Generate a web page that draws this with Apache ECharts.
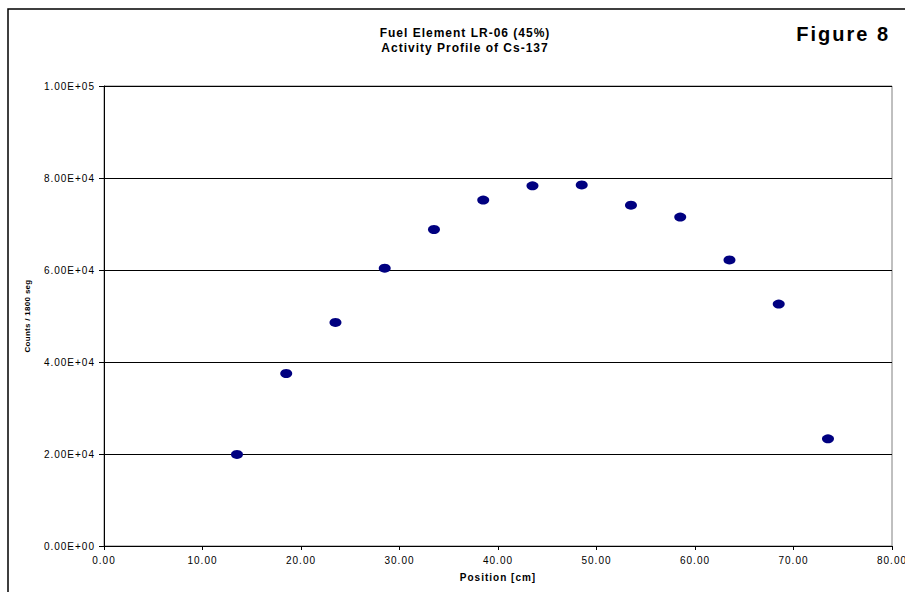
<!DOCTYPE html>
<html style="height: 100%">
<head>
<meta charset="utf-8">
<script src="https://cdn.jsdelivr.net/npm/echarts@6/dist/echarts.min.js"></script>
<style>
    #main text { letter-spacing: 1px; }
    #main text[style*="20px"] { letter-spacing: 2px; }
    #main text[style*=" 8px"] { letter-spacing: 0.3px; }
</style>
</head>
<body style="height: 100%; margin: 0; background: #fff">
<div id="main" style="width: 905px; height: 592px"></div>
<script type="text/javascript">
var positions = [13.5, 18.5, 23.5, 28.5, 33.5, 38.5, 43.5, 48.5, 53.5, 58.5, 63.5, 68.5, 73.5];
var counts = [19900, 37500, 48600, 60400, 68800, 75200, 78300, 78500, 74100, 71500, 62200, 52600, 23300];

var points = [];
for (var i = 0; i < positions.length; i++) {
    points.push([positions[i], counts[i]]);
}

var font = 'Liberation Sans, Arial, sans-serif';
var myChart = echarts.init(document.getElementById('main'), null, { renderer: 'svg' });
myChart.setOption({
    backgroundColor: '#fff',
    animation: false,
    title: [{
        text: 'Fuel Element LR-06 (45%)\nActivity Profile of Cs-137',
        left: 460,
        top: 20,
        textAlign: 'center',
        textStyle: {
            color: '#000',
            fontFamily: font,
            fontSize: 12,
            fontWeight: 'bold',
            lineHeight: 15
        }
    }, {
        text: 'Figure 8',
        right: 26,
        top: 19,
        textStyle: {
            color: '#000',
            fontFamily: font,
            fontSize: 20,
            fontWeight: 'bold'
        }
    }],
    graphic: [{
        type: 'rect',
        shape: { x: 8, y: 9, width: 1000, height: 1000 },
        style: { fill: 'none', stroke: '#000', lineWidth: 1.5 },
        z: -1
    }],
    grid: {
        left: 104,
        right: 13,
        top: 86,
        bottom: 46,
        outerBoundsMode: 'none',
        show: true,
        borderColor: '#808080',
        borderWidth: 1
    },
    xAxis: {
        type: 'value',
        min: 0,
        max: 80,
        interval: 10,
        name: 'Position [cm]',
        nameLocation: 'middle',
        nameGap: 26,
        nameTextStyle: { color: '#000', fontFamily: font, fontSize: 10, fontWeight: 'bold' },
        axisLine: { lineStyle: { color: '#000', width: 1 } },
        axisTick: { show: true, length: 4, lineStyle: { color: '#000' } },
        axisLabel: {
            color: '#000',
            fontFamily: font,
            fontSize: 10,
            margin: 9,
            formatter: function (v) { return v.toFixed(2); }
        },
        splitLine: { show: false }
    },
    yAxis: {
        type: 'value',
        min: 0,
        max: 100000,
        interval: 20000,
        name: 'Counts / 1800 seg',
        nameLocation: 'middle',
        nameGap: 73,
        nameTextStyle: { color: '#000', fontFamily: font, fontSize: 8, fontWeight: 'bold' },
        axisLine: { show: true, lineStyle: { color: '#000', width: 1 } },
        axisTick: { show: true, length: 5, lineStyle: { color: '#000' } },
        axisLabel: {
            color: '#000',
            fontFamily: font,
            fontSize: 10,
            margin: 9,
            formatter: function (v) {
                return v === 0 ? '0.00E+00' : v.toExponential(2).toUpperCase().replace('E+', 'E+0');
            }
        },
        splitLine: { show: true, lineStyle: { color: '#000', width: 1 } }
    },
    series: [{
        type: 'scatter',
        data: points,
        symbol: 'circle',
        symbolSize: [12, 9],
        itemStyle: { color: '#000080', opacity: 1 }
    }]
});
</script>
</body>
</html>
